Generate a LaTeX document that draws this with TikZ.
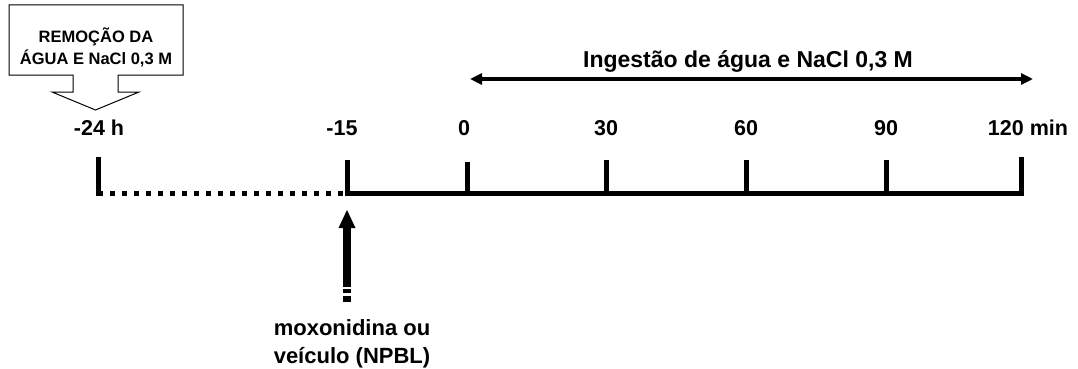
\documentclass[tikz,border=0pt]{standalone}
\usepackage{fontspec}
\setmainfont{Liberation Sans}
\usetikzlibrary{arrows.meta}
\begin{document}
\begin{tikzpicture}[x=1pt,y=-1pt,
  lbl/.style={font=\fontsize{21.5}{25}\selectfont\bfseries, inner sep=0pt, anchor=base},
  toplbl/.style={font=\fontsize{23}{27}\selectfont\bfseries, inner sep=0pt, anchor=base},
  boxtxt/.style={font=\fontsize{16.5}{21}\selectfont\bfseries, inner sep=0pt, anchor=base},
  bottxt/.style={font=\fontsize{22}{28}\selectfont\bfseries, inner sep=0pt, anchor=base},
  tickline/.style={line width=5pt},
  axis/.style={line width=5pt},
  dotline/.style={line width=5pt, dash pattern=on 5pt off 7pt},
  callout/.style={draw, line width=1pt, fill=white, line join=miter},
  span/.style={line width=3.5pt, {Triangle[length=12pt,width=11pt]}-{Triangle[length=12pt,width=11pt]}}
]
\useasboundingbox (0,0) rectangle (1078,369);

% callout box
\draw[callout] (9,5) -- (183,5) -- (183,75) -- (118,75) -- (118,92) -- (139,92)
  -- (95.5,110) -- (52,92) -- (73,92) -- (73,75) -- (9,75) -- cycle;
\node[boxtxt] (rem1) at (96,42) {REMOÇÃO DA};
\node[boxtxt] (rem2) at (96,64) {ÁGUA E NaCl 0,3 M};

% coordinates of time points
\coordinate (tA) at (98,195.5);
\coordinate (tB) at (347,195.5);
\coordinate (t0) at (467,195.5);
\coordinate (t30) at (606,195.5);
\coordinate (t60) at (746,195.5);
\coordinate (t90) at (886,195.5);
\coordinate (t120) at (1021,195.5);

% axis
\draw[dotline] (98,193) -- (347,193);
\draw[axis] (347,193) -- (1023.5,193);

% ticks
\draw[tickline] (tA) -- (98,157);
\draw[tickline] (tB) -- (347,160);
\draw[tickline] (t0) -- (467,162);
\draw[tickline] (t30) -- (606,160);
\draw[tickline] (t60) -- (746,160);
\draw[tickline] (t90) -- (886,160);
\draw[tickline] (t120) -- (1021,157);

% labels
\node[lbl] (lA) at (99,135) {-24 h};
\node[lbl] (lB) at (342,135) {-15};
\node[lbl] (l0) at (464,135) {0};
\node[lbl] (l30) at (606,135) {30};
\node[lbl] (l60) at (746,135) {60};
\node[lbl] (l90) at (886,135) {90};
\node[lbl] (l120) at (1028,135) {120 min};

% ingestion span
\coordinate (sL) at (470,79);
\coordinate (sR) at (1033,79);
\draw[span] (sL) -- (sR);
\node[toplbl] (ing) at (748,67) {Ingestão de água e NaCl 0,3 M};

% drug arrow
\node[bottxt] (drug1) at (352,335) {moxonidina ou};
\node[bottxt] (drug2) at (352,363) {veículo (NPBL)};
\coordinate (arrTip) at (347,210);
\fill (338.5,228) -- (355.5,228) -- (arrTip) -- cycle;
\draw[line width=8pt] (347,287) -- (347,227);
\draw[line width=8pt] (347,293) -- (347,289);
\draw[line width=8pt] (347,302) -- (347,295.5);
\end{tikzpicture}
\end{document}
